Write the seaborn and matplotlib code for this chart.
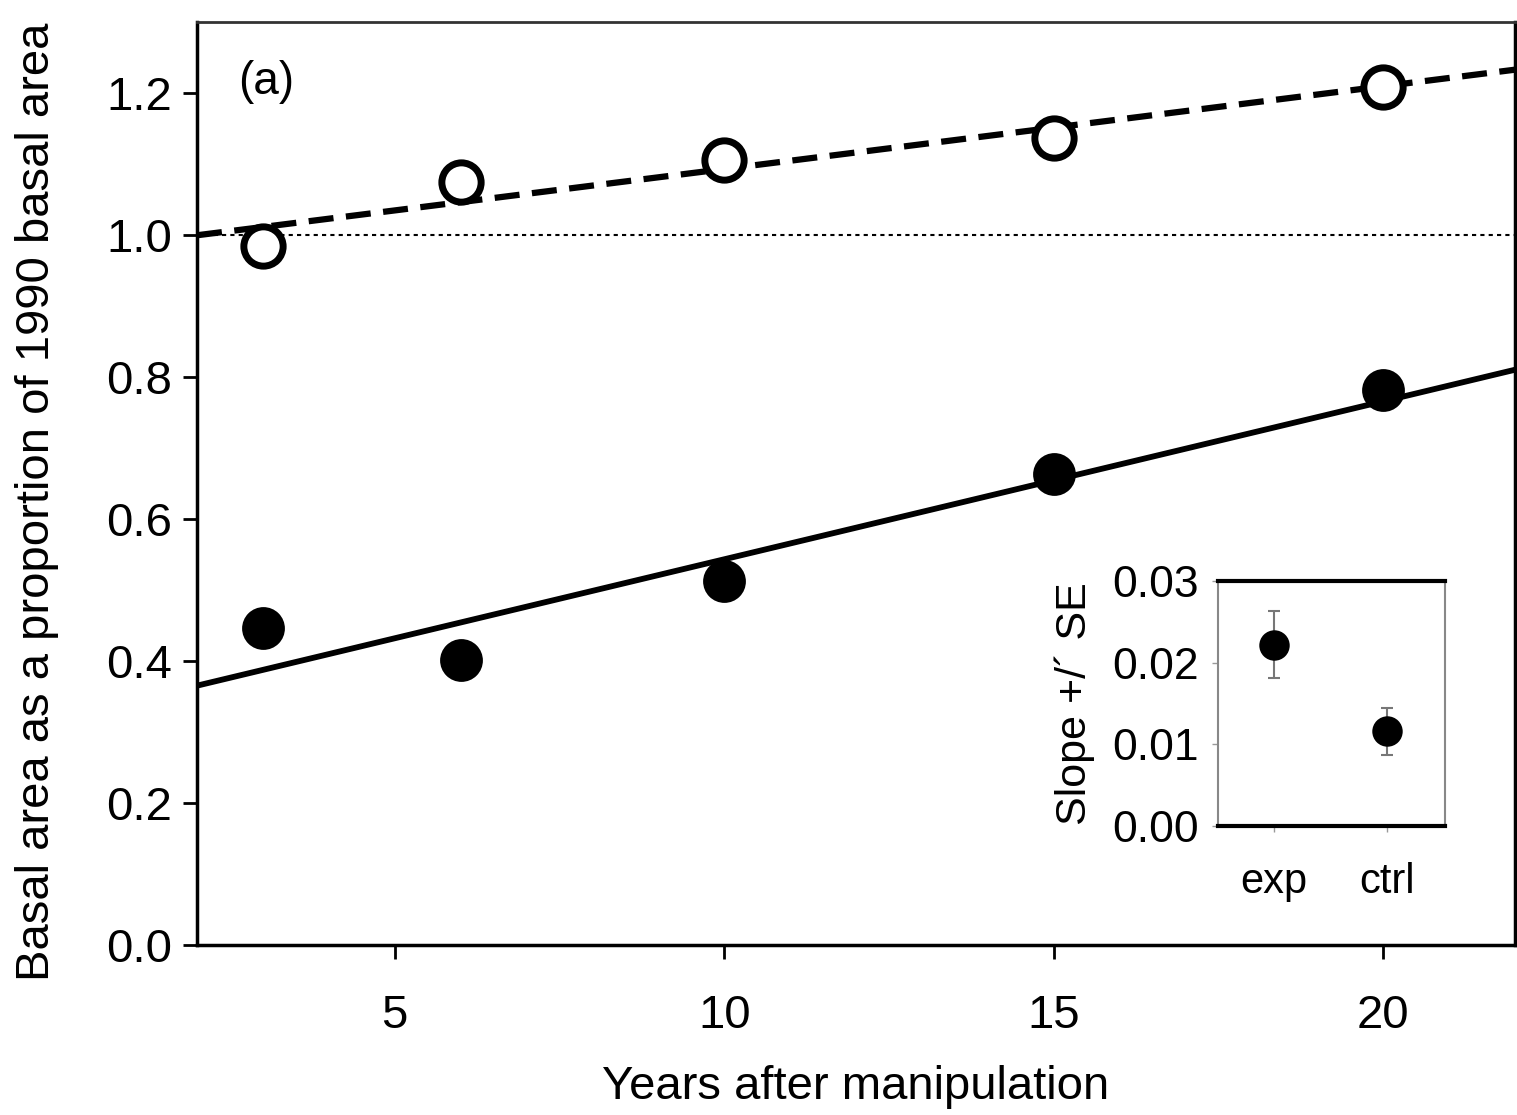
import numpy as np
import pandas as pd
import matplotlib
matplotlib.use("Agg")
import matplotlib.pyplot as plt
import seaborn as sns

# data
years = [3, 6, 10, 15, 20]
ctrl_ba = [0.984, 1.075, 1.106, 1.137, 1.209]   # open circles, dashed fit
exp_ba = [0.446, 0.402, 0.512, 0.664, 0.781]    # filled circles, solid fit

inset_groups = ["exp", "ctrl"]
inset_slope = [0.0222, 0.0116]
inset_se = [0.0041, 0.0029]

sns.set_style("ticks")
plt.rcParams['font.family'] = ['Liberation Sans', 'DejaVu Sans']
plt.rcParams['text.color'] = 'black'
plt.rcParams['axes.labelcolor'] = 'black'
plt.rcParams['xtick.color'] = 'black'
plt.rcParams['ytick.color'] = 'black'

df = pd.DataFrame({"year": years, "ctrl": ctrl_ba, "exp": exp_ba})

fig = plt.figure(figsize=(15.17, 11.15), dpi=100)
ax = fig.add_axes([0.1299, 0.1525, 0.8688, 0.8278])
ax.set_xlim(2, 22)
ax.set_ylim(0, 1.3)

# reference line at 1.0
ax.axhline(1.0, color="black", lw=1.5, ls=(0, (2, 2)), zorder=1)

# regression lines across the full x range
sns.regplot(data=df, x="year", y="ctrl", ax=ax, scatter=False, ci=None,
            truncate=False, color="black",
            line_kws={"lw": 4.5, "ls": (0, (4, 2)), "zorder": 2})
sns.regplot(data=df, x="year", y="exp", ax=ax, scatter=False, ci=None,
            truncate=False, color="black", line_kws={"lw": 4.2, "zorder": 2})

sns.scatterplot(data=df, x="year", y="ctrl", ax=ax, s=800, color="white",
                edgecolor="black", linewidth=5, zorder=3)
sns.scatterplot(data=df, x="year", y="exp", ax=ax, s=950, color="black",
                edgecolor="black", linewidth=0, zorder=3)

ax.set_xlim(2, 22)
ax.set_ylim(0, 1.3)
ax.set_xticks([5, 10, 15, 20])
ax.set_yticks(np.arange(0, 1.21, 0.2))
ax.set_yticklabels([f"{v:.1f}" for v in np.arange(0, 1.21, 0.2)])
ax.tick_params(axis="both", direction="out", length=10, width=2,
               labelsize=34, color="black", pad=8)
ax.tick_params(axis="x", pad=25)
for side in ["left", "bottom", "right"]:
    ax.spines[side].set_linewidth(2.5)
    ax.spines[side].set_color("black")
ax.spines["top"].set_linewidth(2)
ax.spines["top"].set_color("#333333")
ax.set_xlabel("Years after manipulation", fontsize=34, labelpad=20)
ax.set_ylabel("Basal area as a proportion of 1990 basal area", fontsize=34,
              labelpad=34)
ax.yaxis.label.set_y(0.48)
ax.text(0.031, 0.935, "(a)", transform=ax.transAxes, fontsize=33, va="center")

# inset with slopes
ins = fig.add_axes([0.8029, 0.2592, 0.1496, 0.2197])
sns.scatterplot(x=inset_groups, y=inset_slope, ax=ins, s=480, color="black",
                linewidth=0, zorder=3)
ins.errorbar([0, 1], inset_slope, yerr=inset_se, fmt="none", ecolor="#777777",
             elinewidth=1.5, capsize=4, capthick=1.5, zorder=2)
ins.set_xlim(-0.5, 1.52)
ins.set_ylim(0, 0.03)
ins.set_yticks([0, 0.01, 0.02, 0.03])
ins.set_yticklabels(["0.00", "0.01", "0.02", "0.03"])
ins.tick_params(axis="both", direction="out", length=4, width=1,
                color="#999999", labelsize=32)
ins.tick_params(axis="y", pad=10)
ins.tick_params(axis="x", pad=22, labelsize=30)
for side in ["top", "bottom"]:
    ins.spines[side].set_linewidth(3)
    ins.spines[side].set_color("black")
for side in ["left", "right"]:
    ins.spines[side].set_linewidth(1.5)
    ins.spines[side].set_color("#888888")
ins.set_ylabel("Slope +/\u00b4 SE", fontsize=31, labelpad=12)
ins.set_xlabel("")

fig.savefig("out.png", dpi=100)
